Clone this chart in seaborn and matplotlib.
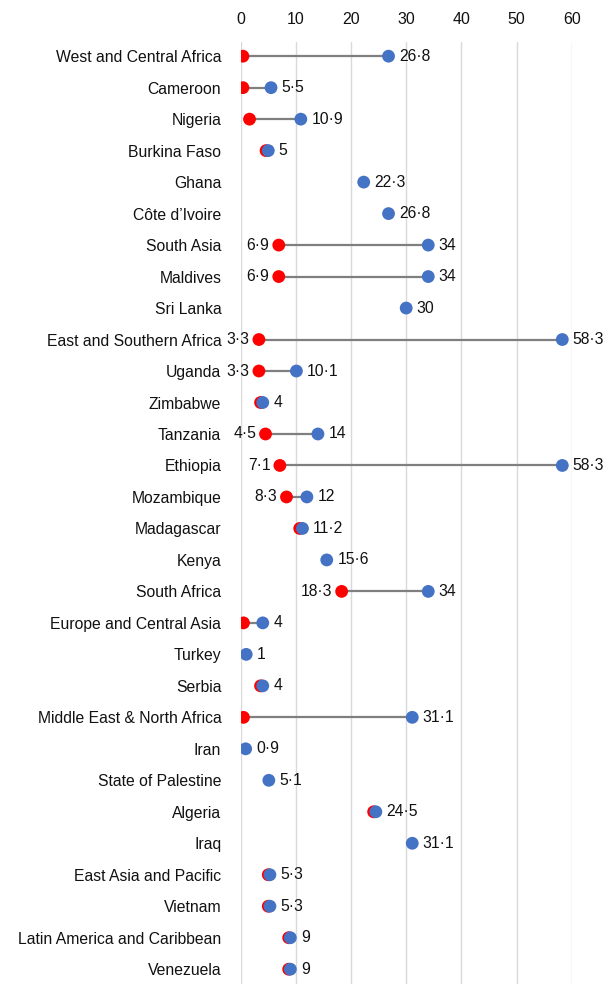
import numpy as np
import pandas as pd
import seaborn as sns
import matplotlib.pyplot as plt

countries = ["West and Central Africa", "Cameroon", "Nigeria", "Burkina Faso", "Ghana",
             "Côte d’Ivoire", "South Asia", "Maldives", "Sri Lanka", "East and Southern Africa",
             "Uganda", "Zimbabwe", "Tanzania", "Ethiopia", "Mozambique", "Madagascar", "Kenya",
             "South Africa", "Europe and Central Asia", "Turkey", "Serbia",
             "Middle East & North Africa", "Iran", "State of Palestine", "Algeria", "Iraq",
             "East Asia and Pacific", "Vietnam", "Latin America and Caribbean", "Venezuela"]

high = [26.8, 5.5, 10.9, 5, 22.3, 26.8, 34, 34, 30, 58.3,
        10.1, 4, 14, 58.3, 12, 11.2, 15.6, 34, 4, 1,
        4, 31.1, 0.9, 5.1, 24.5, 31.1, 5.3, 5.3, 9, 9]
# None where only one value is shown
low = [0.4, 0.4, 1.6, 4.6, None, None, 6.9, 6.9, None, 3.3,
       3.3, 3.6, 4.5, 7.1, 8.3, 10.7, None, 18.3, 0.5, None,
       3.6, 0.5, None, None, 24.1, None, 5.0, 5.0, 8.7, 8.7]

high_labels = ["26·8", "5·5", "10·9", "5", "22·3", "26·8", "34", "34", "30", "58·3",
               "10·1", "4", "14", "58·3", "12", "11·2", "15·6", "34", "4", "1",
               "4", "31·1", "0·9", "5·1", "24·5", "31·1", "5·3", "5·3", "9", "9"]
low_labels = ["", "", "", "", "", "", "6·9", "6·9", "", "3·3",
              "3·3", "", "4·5", "7·1", "8·3", "", "", "18·3", "", "",
              "", "", "", "", "", "", "", "", "", ""]

pos = np.arange(len(countries))
low_arr = np.array([np.nan if v is None else v for v in low], dtype=float)
df = pd.DataFrame({
    "pos": np.concatenate([pos, pos]),
    "value": np.concatenate([low_arr, high]),
    "kind": ["low"] * len(low) + ["high"] * len(high),
}).dropna()

sns.set_style("white")
plt.rcParams['font.family'] = ['Liberation Sans', 'DejaVu Sans']

fig = plt.figure(figsize=(6.12, 9.84), dpi=100)
ax = fig.add_axes([0.3933, 0.0, 0.5408, 0.9573])

has_low = ~np.isnan(low_arr)
ax.hlines(pos[has_low], low_arr[has_low], np.array(high)[has_low],
          color="#7f7f7f", linewidth=1.6, zorder=2)
sns.scatterplot(data=df, x="value", y="pos", hue="kind",
                palette={"low": "#ff0000", "high": "#4472c4"},
                s=85, linewidth=0, legend=False, zorder=3, ax=ax)

for i in pos:
    ax.annotate(high_labels[i], (high[i], i), xytext=(7.6, 0), textcoords="offset points",
                ha="left", va="center", fontsize=11.3, color="#111111")
    if low_labels[i]:
        ax.annotate(low_labels[i], (low[i], i), xytext=(-6.8, 0), textcoords="offset points",
                    ha="right", va="center", fontsize=11.3, color="#111111")

ax.set_xlim(0, 60)
ax.set_ylim(29.47, -0.45)
ax.set_xticks(range(0, 61, 10))
ax.set_yticks(pos)
ax.set_yticklabels(countries)
ax.xaxis.tick_top()
ax.tick_params(axis="x", length=0, pad=11, labelsize=11.5, labelcolor="#111111")
ax.tick_params(axis="y", length=0, pad=14, labelsize=11.3, labelcolor="#111111")
ax.set_xlabel("")
ax.set_ylabel("")
ax.grid(axis="x", color="#d9d9d9", linewidth=1.0)
ax.grid(axis="y", visible=False)
ax.set_axisbelow(True)
for sp in ax.spines.values():
    sp.set_visible(False)

fig.savefig("out.png", dpi=100)
